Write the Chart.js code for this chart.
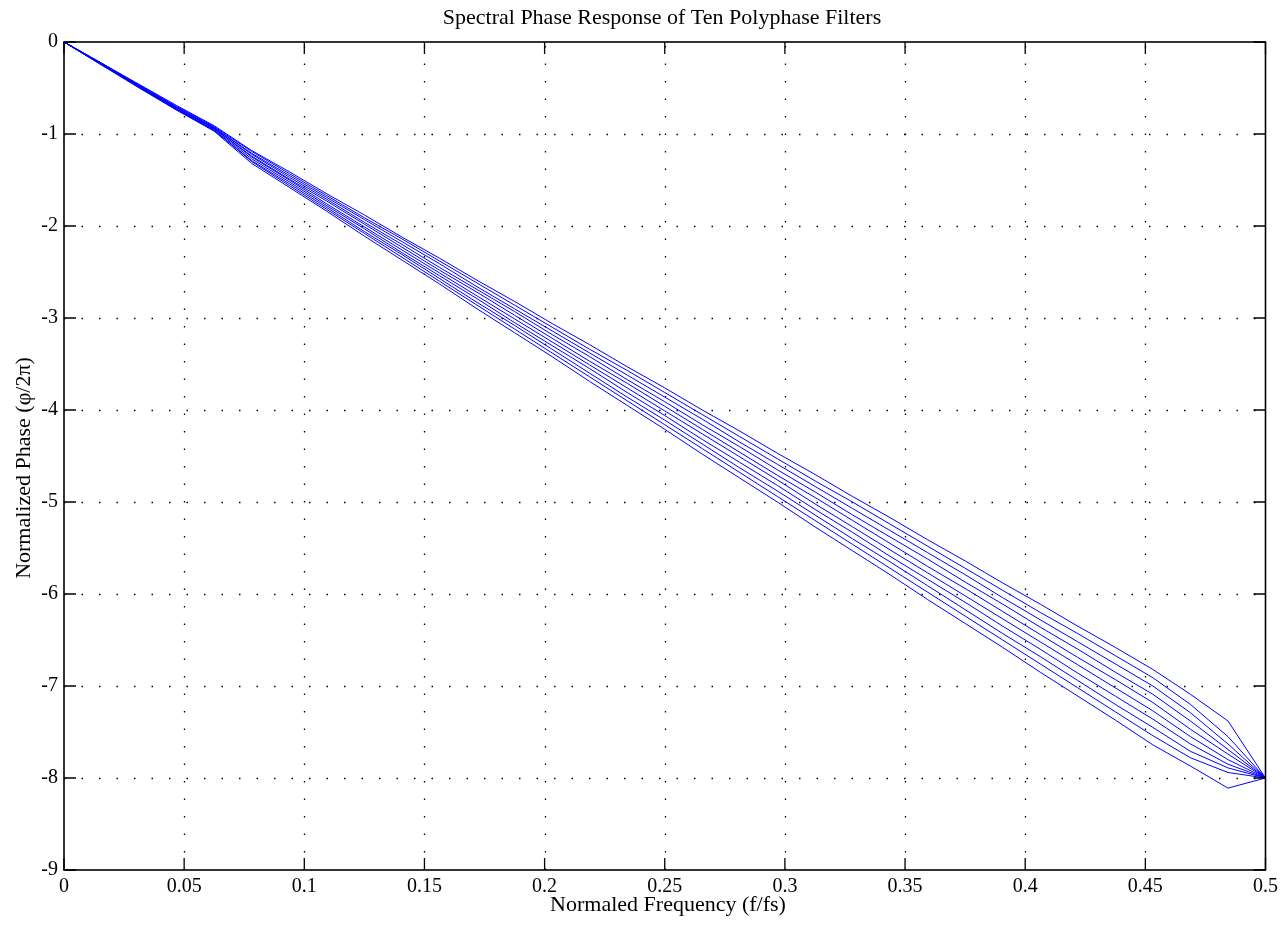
<!DOCTYPE html>
<html>
<head>
<meta charset="utf-8">
<script src="https://cdn.jsdelivr.net/npm/chart.js@4.4.1/dist/chart.umd.min.js"></script>
<style>
html,body{margin:0;padding:0;background:#fff;}
canvas{display:block;}
</style>
</head>
<body>
<canvas id="c" width="1283" height="926"></canvas>
<script>
// Frequencies: k/64 for k = 0..32
const freqs = [0,0.015625,0.03125,0.046875,0.0625,0.078125,0.09375,0.109375,0.125,0.140625,0.15625,0.171875,0.1875,0.203125,0.21875,0.234375,0.25,0.265625,0.28125,0.296875,0.3125,0.328125,0.34375,0.359375,0.375,0.390625,0.40625,0.421875,0.4375,0.453125,0.46875,0.484375,0.5];

const phase1  = [0,-0.23,-0.46,-0.69,-0.91,-1.18,-1.41,-1.65,-1.88,-2.12,-2.35,-2.59,-2.82,-3.06,-3.29,-3.53,-3.76,-4.00,-4.23,-4.47,-4.70,-4.94,-5.17,-5.41,-5.64,-5.88,-6.11,-6.35,-6.58,-6.82,-7.09,-7.38,-8];
const phase2  = [0,-0.23,-0.47,-0.70,-0.92,-1.19,-1.43,-1.67,-1.91,-2.14,-2.38,-2.62,-2.86,-3.10,-3.34,-3.57,-3.81,-4.05,-4.29,-4.53,-4.77,-5.00,-5.24,-5.48,-5.72,-5.96,-6.20,-6.43,-6.67,-6.91,-7.20,-7.55,-8];
const phase3  = [0,-0.23,-0.47,-0.71,-0.93,-1.21,-1.45,-1.69,-1.93,-2.17,-2.41,-2.66,-2.90,-3.14,-3.38,-3.62,-3.86,-4.10,-4.35,-4.59,-4.83,-5.07,-5.31,-5.55,-5.79,-6.04,-6.28,-6.52,-6.76,-7.00,-7.29,-7.63,-8];
const phase4  = [0,-0.24,-0.47,-0.71,-0.93,-1.22,-1.47,-1.71,-1.96,-2.20,-2.45,-2.69,-2.93,-3.18,-3.42,-3.67,-3.91,-4.16,-4.40,-4.65,-4.89,-5.14,-5.38,-5.62,-5.87,-6.11,-6.36,-6.60,-6.85,-7.09,-7.38,-7.69,-8];
const phase5  = [0,-0.24,-0.48,-0.72,-0.94,-1.24,-1.49,-1.73,-1.98,-2.23,-2.48,-2.72,-2.97,-3.22,-3.47,-3.71,-3.96,-4.21,-4.46,-4.71,-4.95,-5.20,-5.45,-5.70,-5.94,-6.19,-6.44,-6.69,-6.93,-7.18,-7.47,-7.74,-8];
const phase6  = [0,-0.24,-0.48,-0.72,-0.94,-1.25,-1.50,-1.76,-2.01,-2.26,-2.51,-2.76,-3.01,-3.26,-3.51,-3.76,-4.01,-4.26,-4.51,-4.76,-5.02,-5.27,-5.52,-5.77,-6.02,-6.27,-6.52,-6.77,-7.02,-7.27,-7.55,-7.80,-8];
const phase7  = [0,-0.24,-0.49,-0.73,-0.95,-1.27,-1.52,-1.78,-2.03,-2.29,-2.54,-2.79,-3.05,-3.30,-3.55,-3.81,-4.06,-4.32,-4.57,-4.82,-5.08,-5.33,-5.59,-5.84,-6.09,-6.35,-6.60,-6.86,-7.11,-7.36,-7.63,-7.85,-8];
const phase8  = [0,-0.24,-0.49,-0.73,-0.96,-1.29,-1.54,-1.80,-2.06,-2.31,-2.57,-2.83,-3.08,-3.34,-3.60,-3.86,-4.11,-4.37,-4.63,-4.88,-5.14,-5.40,-5.65,-5.91,-6.17,-6.43,-6.68,-6.94,-7.20,-7.45,-7.71,-7.89,-8];
const phase9  = [0,-0.25,-0.49,-0.74,-0.96,-1.30,-1.56,-1.82,-2.08,-2.34,-2.60,-2.86,-3.12,-3.38,-3.64,-3.90,-4.16,-4.42,-4.68,-4.94,-5.20,-5.46,-5.72,-5.98,-6.24,-6.50,-6.76,-7.02,-7.28,-7.54,-7.78,-7.94,-8];
const phase10 = [0,-0.25,-0.50,-0.74,-0.97,-1.32,-1.58,-1.84,-2.11,-2.37,-2.63,-2.90,-3.16,-3.42,-3.69,-3.95,-4.21,-4.48,-4.74,-5.00,-5.27,-5.53,-5.79,-6.06,-6.32,-6.58,-6.85,-7.11,-7.37,-7.64,-7.87,-8.11,-8];

const xTickValues = [0,0.05,0.1,0.15,0.2,0.25,0.3,0.35,0.4,0.45,0.5];
const xTickLabels = ['0','0.05','0.1','0.15','0.2','0.25','0.3','0.35','0.4','0.45','0.5'];
const yTickValues = [0,-1,-2,-3,-4,-5,-6,-7,-8,-9];
const yTickLabels = ['0','-1','-2','-3','-4','-5','-6','-7','-8','-9'];

const titleText = 'Spectral Phase Response of Ten Polyphase Filters';
const xTitleText = 'Normaled Frequency (f/fs)';
const yTitleText = 'Normalized Phase (\u03c6/2\u03c0)';

const allPhases = [phase1,phase2,phase3,phase4,phase5,phase6,phase7,phase8,phase9,phase10];
const datasets = allPhases.map((arr, i) => ({
  label: 'Filter ' + (i + 1),
  data: freqs.map((f, k) => ({x: f, y: arr[k]})),
  borderColor: '#0000ff',
  borderWidth: 1,
  pointRadius: 0,
  tension: 0,
  fill: false
}));

const SERIF = '"Liberation Serif", "Times New Roman", serif';

const framePlugin = {
  id: 'frame',
  beforeDatasetsDraw(chart) {
    const ctx = chart.ctx;
    const a = chart.chartArea;
    const xs = chart.scales.x, ys = chart.scales.y;
    ctx.save();
    ctx.strokeStyle = '#000';
    ctx.lineWidth = 1.3;
    ctx.setLineDash([1.5, 16]);
    xTickValues.forEach(v => {
      if (v <= xs.min || v >= xs.max) return;
      const px = Math.round(xs.getPixelForValue(v)) + 0.5;
      ctx.beginPath(); ctx.moveTo(px, a.bottom); ctx.lineTo(px, a.top); ctx.stroke();
    });
    yTickValues.forEach(v => {
      if (v <= ys.min || v >= ys.max) return;
      const py = Math.round(ys.getPixelForValue(v)) + 0.5;
      ctx.beginPath(); ctx.moveTo(a.left, py); ctx.lineTo(a.right, py); ctx.stroke();
    });
    ctx.restore();
  },
  afterDatasetsDraw(chart) {
    const ctx = chart.ctx;
    const a = chart.chartArea;
    const xs = chart.scales.x, ys = chart.scales.y;
    ctx.save();
    ctx.strokeStyle = '#000';
    ctx.lineWidth = 1.6;
    ctx.setLineDash([]);
    ctx.strokeRect(a.left, a.top, a.right - a.left, a.bottom - a.top);
    const TL = 12;
    ctx.lineWidth = 1.3;
    xTickValues.forEach(v => {
      const px = xs.getPixelForValue(v);
      ctx.beginPath();
      ctx.moveTo(px, a.bottom); ctx.lineTo(px, a.bottom - TL);
      ctx.moveTo(px, a.top); ctx.lineTo(px, a.top + TL);
      ctx.stroke();
    });
    yTickValues.forEach(v => {
      const py = ys.getPixelForValue(v);
      ctx.beginPath();
      ctx.moveTo(a.left, py); ctx.lineTo(a.left + TL, py);
      ctx.moveTo(a.right, py); ctx.lineTo(a.right - TL, py);
      ctx.stroke();
    });
    // texts
    ctx.fillStyle = '#000';
    ctx.textAlign = 'center';
    ctx.textBaseline = 'alphabetic';
    ctx.font = '22px ' + SERIF;
    ctx.fillText(titleText, 662, 24);
    ctx.fillText(xTitleText, 668, 911);
    ctx.translate(30, 468);
    ctx.rotate(-Math.PI / 2);
    ctx.fillText(yTitleText, 0, 0);
    ctx.restore();
  }
};

new Chart(document.getElementById('c'), {
  type: 'line',
  data: { datasets },
  options: {
    responsive: false,
    animation: false,
    devicePixelRatio: 1,
    layout: { padding: { left: 0, right: 16, top: 42, bottom: 0 } },
    plugins: { legend: { display: false }, tooltip: { enabled: false }, title: { display: false } },
    elements: { point: { radius: 0 }, line: { borderWidth: 1 } },
    scales: {
      x: {
        type: 'linear', min: 0, max: 0.5,
        afterBuildTicks: s => { s.ticks = xTickValues.map(v => ({ value: v })); },
        afterFit: s => { s.height = 56; },
        grid: { display: false, drawTicks: false },
        border: { display: false },
        ticks: {
          padding: 5, maxRotation: 0, autoSkip: false,
          color: '#000', font: { family: SERIF, size: 20 },
          callback: (v, i) => xTickLabels[i]
        }
      },
      y: {
        type: 'linear', min: -9, max: 0,
        afterBuildTicks: s => { s.ticks = yTickValues.slice().reverse().map(v => ({ value: v })); },
        afterFit: s => { s.width = 64; },
        grid: { display: false, drawTicks: false },
        border: { display: false },
        ticks: {
          padding: 6, autoSkip: false,
          color: '#000', font: { family: SERIF, size: 20 },
          callback: (v) => yTickLabels[yTickValues.indexOf(v)]
        }
      }
    }
  },
  plugins: [framePlugin]
});
</script>
</body>
</html>
